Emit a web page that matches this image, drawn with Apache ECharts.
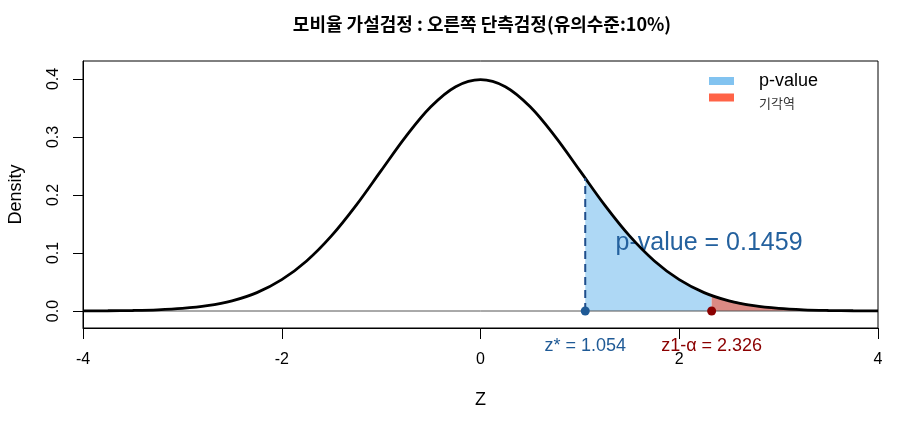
<!DOCTYPE html>
<html>
<head>
<meta charset="utf-8">
<script src="https://cdn.jsdelivr.net/npm/echarts@6/dist/echarts.min.js"></script>
<style>
html,body{margin:0;padding:0;background:#fff;}
#c{width:909px;height:423px;}
</style>
</head>
<body>
<div id="c"></div>
<script>
// ---- data ----
const titleText = '모비율 가설검정 : 오른쪽 단측검정(유의수준:10%)';
const zGrid = [-4, -3.75, -3.5, -3.25, -3, -2.75, -2.5, -2.25, -2, -1.75, -1.5, -1.25, -1, -0.75, -0.5, -0.25, 0,
               0.25, 0.5, 0.75, 1, 1.25, 1.5, 1.75, 2, 2.25, 2.5, 2.75, 3, 3.25, 3.5, 3.75, 4];
const density = [0.0001, 0.0004, 0.0009, 0.0020, 0.0044, 0.0091, 0.0175, 0.0317, 0.0540, 0.0863, 0.1295, 0.1826, 0.2420, 0.3011, 0.3521, 0.3867, 0.3989,
                 0.3867, 0.3521, 0.3011, 0.2420, 0.1826, 0.1295, 0.0863, 0.0540, 0.0317, 0.0175, 0.0091, 0.0044, 0.0020, 0.0009, 0.0004, 0.0001];
const pValueZ = [1.054, 1.25, 1.5, 1.75, 2, 2.25, 2.326];
const pValueD = [0.2290, 0.1826, 0.1295, 0.0863, 0.0540, 0.0317, 0.0267];
const rejectZ = [2.326, 2.5, 2.75, 3, 3.25, 3.5];
const rejectD = [0.0267, 0.0175, 0.0091, 0.0044, 0.0020, 0.0009];
const zStar = 1.054;
const zStarD = 0.2290;
const zCrit = 2.326;
const pValueText = 'p-value = 0.1459';
const pValueTextPos = [2.30, 0.117];
const zStarLabel = 'z* = 1.054';
const zCritLabel = 'z1-α = 2.326';
const yTicks = [0, 0.1, 0.2, 0.3, 0.4];
const xTicks = [-4, -2, 0, 2, 4];
const legendNames = ['p-value', '기각역'];

const zip = (a, b) => a.map((v, i) => [v, b[i]]);
const FONT = '"Liberation Sans", Arial, "Noto Sans CJK KR", sans-serif';
const KFONT = '"Noto Sans CJK KR", sans-serif';
const BLUE_TXT = '#1F5A96';
const RED_TXT = '#8B0000';

const chart = echarts.init(document.getElementById('c'), null, {renderer: 'canvas'});
chart.setOption({
  animation: false,
  backgroundColor: '#fff',
  textStyle: {fontFamily: FONT},
  title: {
    text: titleText,
    left: 477, top: 10, textAlign: 'center',
    textStyle: {fontFamily: KFONT, fontSize: 18, fontWeight: 'bold', color: '#000'}
  },
  legend: [
    {
      orient: 'vertical', left: 704, top: 67,
      itemWidth: 25, itemHeight: 8, icon: 'rect',
      data: [{name: legendNames[0], itemStyle: {color: '#82C3F0'}}],
      formatter: '{a|{name}}',
      textStyle: {rich: {a: {fontFamily: FONT, fontSize: 18, lineHeight: 20, color: '#000', padding: [0, 0, 0, 20]}}}
    },
    {
      orient: 'vertical', left: 704, top: 80,
      itemWidth: 25, itemHeight: 8, icon: 'rect',
      data: [{name: legendNames[1], itemStyle: {color: '#FF6347'}}],
      formatter: '{b|{name}}',
      textStyle: {rich: {b: {fontFamily: KFONT, fontSize: 13, lineHeight: 14, color: '#333', padding: [12, 0, 0, 20]}}}
    }
  ],
  grid: {
    left: 83, right: 31, top: 61, bottom: 95,
    show: true, borderColor: '#000', borderWidth: 1,
    containLabel: false, outerBoundsMode: 'none'
  },
  xAxis: {
    type: 'value', min: -4, max: 4, interval: 2,
    name: 'Z', nameLocation: 'middle', nameGap: 63,
    nameTextStyle: {fontSize: 18, color: '#000', fontFamily: FONT},
    axisLine: {show: true, onZero: false, lineStyle: {color: '#000', width: 1}},
    axisTick: {show: true, length: 11, lineStyle: {color: '#000'}, customValues: xTicks},
    axisLabel: {fontSize: 16, color: '#000', margin: 24, fontFamily: FONT, customValues: xTicks},
    splitLine: {show: false}
  },
  yAxis: {
    type: 'value', min: -0.0293, max: 0.431,
    name: 'Density', nameLocation: 'middle', nameGap: 58,
    nameTextStyle: {fontSize: 18, color: '#000', fontFamily: FONT},
    axisLine: {show: true, onZero: false, lineStyle: {color: '#000', width: 1}},
    axisTick: {show: true, length: 10, lineStyle: {color: '#000'}, customValues: yTicks},
    axisLabel: {fontSize: 16, color: '#000', margin: 21, rotate: 90, fontFamily: FONT,
                customValues: yTicks, formatter: v => v.toFixed(1)},
    splitLine: {show: false}
  },
  series: [
    {
      name: legendNames[0], type: 'line', data: zip(pValueZ, pValueD), z: 1,
      smooth: 0.35, showSymbol: false, silent: true,
      itemStyle: {color: '#82C3F0'},
      lineStyle: {width: 0},
      areaStyle: {color: '#AED8F5', opacity: 1, origin: 0}
    },
    {
      name: legendNames[1], type: 'line', data: zip(rejectZ, rejectD), z: 1,
      smooth: 0.35, showSymbol: false, silent: true,
      itemStyle: {color: '#FF6347'},
      lineStyle: {width: 1.5, color: '#B2504A'},
      areaStyle: {color: '#DC8A84', opacity: 1, origin: 0}
    },
    {
      name: 'pvText', type: 'scatter', data: [pValueTextPos], symbolSize: 0, z: 2,
      itemStyle: {color: '#24619E', opacity: 1},
      label: {show: true, position: 'inside', formatter: pValueText,
              fontSize: 25, color: '#24619E', fontFamily: FONT}
    },
    {
      name: 'zero', type: 'line', data: [[-4, 0], [4, 0]], z: 3,
      showSymbol: false, silent: true,
      lineStyle: {color: '#555', width: 1}
    },
    {
      name: 'density', type: 'line', data: zip(zGrid, density), z: 4,
      smooth: 0.35, showSymbol: false, silent: true,
      lineStyle: {color: '#000', width: 2.8}
    },
    {
      name: 'zstarLine', type: 'line', data: [[zStar, 0], [zStar, zStarD]], z: 5,
      showSymbol: false, silent: true,
      lineStyle: {color: '#1F4E8C', width: 2, type: [8, 5]}
    },
    {
      name: 'zstarPt', type: 'scatter', data: [[zStar, 0]], clip: false, z: 6,
      symbolSize: 9, itemStyle: {color: '#1F5A96', opacity: 1},
      label: {show: true, position: 'bottom', distance: 22, formatter: zStarLabel,
              fontSize: 18, color: BLUE_TXT, fontFamily: FONT}
    },
    {
      name: 'zcritPt', type: 'scatter', data: [[zCrit, 0]], clip: false, z: 6,
      symbolSize: 9, itemStyle: {color: '#8B0000', opacity: 1},
      label: {show: true, position: 'bottom', distance: 22, formatter: zCritLabel,
              fontSize: 18, color: RED_TXT, fontFamily: FONT}
    }
  ]
});
</script>
</body>
</html>
